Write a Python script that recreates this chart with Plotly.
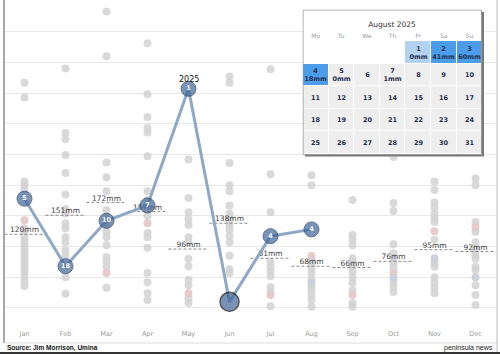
import datetime
import plotly.graph_objects as go

# ---------------- data ----------------
months = ["Jan", "Feb", "Mar", "Apr", "May", "Jun", "Jul", "Aug", "Sep", "Oct", "Nov", "Dec"]

hist_jan = [367, 343, 206, 200, 193, 130, 124, 117, 111, 104, 98, 91, 85, 78, 72, 65, 59, 52, 44, 36]
hist_feb = [390, 285, 275, 249, 220, 185, 161, 154, 138, 130, 115, 107, 94, 85, 50, 23]
hist_mar = [483, 410, 237, 213, 190, 159, 146, 135, 124, 115, 102, 83, 76, 67, 33]
hist_apr = [431, 348, 311, 293, 286, 247, 190, 176, 150, 122, 115, 98, 57, 42, 24, 13]
hist_may = [242, 179, 156, 145, 135, 115, 107, 80, 68, 46, 37, 16, 8]
hist_jun = [377, 367, 236, 200, 190, 167, 154, 146, 140, 133, 127, 117, 107, 85, 63, 57]
hist_jul = [389, 218, 156, 75, 67, 60, 52, 34, 26, 3]
hist_aug = [216, 200, 78, 72, 65, 57, 46, 34, 29, 21, 13, 2]
hist_sep = [176, 119, 111, 102, 81, 75, 67, 59, 50, 41, 29, 8, 2]
hist_oct = [246, 171, 158, 104, 89, 81, 73, 65, 41, 34, 26]
hist_nov = [206, 192, 172, 163, 153, 146, 140, 111, 73, 67, 50, 42, 33, 24]
hist_dec = [211, 200, 140, 124, 107, 99, 93, 86, 80, 67, 62, 37, 21, 5]
history = [hist_jan, hist_feb, hist_mar, hist_apr, hist_may, hist_jun,
           hist_jul, hist_aug, hist_sep, hist_oct, hist_nov, hist_dec]

# highlighted earlier years (pinkish / bluish dots)
pink_mm = [143, None, 57, 138, 24, None, 21, 85, 21, 57, 125, 132]
blue_mm = [None, None, None, None, None, None, None, 41, None, 49, 81, 50]

avg_mm = [120, 151, 172, 157, 96, 138, 81, 68, 66, 76, 95, 92]

y2025_mm = [178, 68, 142, 167, 357, 10, 117, 128]
rank2025 = ["5", "18", "10", "7", "1", "", "4", "4"]

cal_year, cal_month, cal_days = 2025, 8, 31
cal_title = "August 2025"
weekdays = ["Mo", "Tu", "We", "Th", "Fr", "Sa", "Su"]
cal_rain = {1: 0, 2: 41, 3: 60, 4: 18, 5: 0, 7: 1}
cal_shade = {1: 2, 2: 3, 3: 3, 4: 3}   # 2 = light blue, 3 = blue, default 1 = grey

# ---------------- layout helpers ----------------
W, H = 500, 354
ML, MR, MT, MB = 4, 4, 0, 26
PW, PH = W - ML - MR, H - MT - MB


def pxx(px):
    return (px - ML) / PW


def pxy(py):
    return 1 - (py - MT) / PH


fig = go.Figure()

# grey historic dots
gx, gy = [], []
for i, vals in enumerate(history):
    gx += [i] * len(vals)
    gy += vals
fig.add_trace(go.Scatter(x=gx, y=gy, mode="markers", hoverinfo="y",
                         marker=dict(size=8, color="#d2d2d2", opacity=0.85),
                         showlegend=False))
fig.add_trace(go.Scatter(x=[i for i, v in enumerate(pink_mm) if v is not None],
                         y=[v for v in pink_mm if v is not None], mode="markers",
                         marker=dict(size=8, color="#e6c6c6", opacity=0.9), showlegend=False))
fig.add_trace(go.Scatter(x=[i for i, v in enumerate(blue_mm) if v is not None],
                         y=[v for v in blue_mm if v is not None], mode="markers",
                         marker=dict(size=8, color="#c6cedb", opacity=0.9), showlegend=False))

# dashed averages
ax, ay = [], []
for i, v in enumerate(avg_mm):
    ax += [i - 0.49, i + 0.49, None]
    ay += [v, v, None]
fig.add_trace(go.Scatter(x=ax, y=ay, mode="lines", hoverinfo="skip",
                         line=dict(color="#8a8a8a", width=1, dash="3px,2px"), showlegend=False))
fig.add_trace(go.Scatter(x=list(range(12)), y=avg_mm, mode="text",
                         text=[f"{v}mm" for v in avg_mm], textposition="top center",
                         textfont=dict(size=7.5, color="#444444"), showlegend=False))

# 2025 line
n = len(y2025_mm)
sizes = [19 if r == "" else 15 for r in rank2025]
lcol = ["#111111" if r == "" else "#22395e" for r in rank2025]
lw = [1.5 if r == "" else 1 for r in rank2025]
fig.add_trace(go.Scatter(x=list(range(n)), y=y2025_mm, mode="lines+markers+text",
                         text=[f"<b>{r}</b>" if r else "" for r in rank2025],
                         textposition="middle center",
                         textfont=dict(size=6.5, color="white"),
                         line=dict(color="#8ea8c6", width=3),
                         marker=dict(size=sizes, color="#41669a", line=dict(color=lcol, width=lw)),
                         showlegend=False))
top = rank2025.index("1")
fig.add_annotation(x=top, y=y2025_mm[top], text=str(cal_year), showarrow=False,
                   yshift=9, font=dict(size=8, color="#111111"))

# ---------------- calendar inset ----------------
CW, RH = 25.6, 22.5
DX0, DX1, DY0, DY1 = 302.5, 484, 9.5, 156.5
x_lo = -0.5 - (303 - DX0) / CW
x_hi = x_lo + (DX1 - DX0) / CW
y_top = -0.5 - (41 - DY0) / RH
y_bot = y_top + (DY1 - DY0) / RH


def cx(px):
    return x_lo + (px - DX0) / CW


def cy(py):
    return y_top + (py - DY0) / RH


def block(x0, y0, x1, y1, color):
    # single-cell heatmap used as a solid panel (edges given)
    return go.Heatmap(z=[[1]], x=[cx(x0), cx(x1)], y=[cy(y0), cy(y1)], xaxis="x2", yaxis="y2",
                      colorscale=[[0, color], [1, color]], showscale=False, hoverinfo="skip")


fig.add_trace(block(305, 12, 483.5, 156.5, "#7a7a7a"))
fig.add_trace(block(303, 10, 481.5, 154.5, "#ffffff"))

first_wd = datetime.date(cal_year, cal_month, 1).weekday()
n_rows = 5
z = [[0] * 7 for _ in range(n_rows)]
txt = [[""] * 7 for _ in range(n_rows)]
for d in range(1, cal_days + 1):
    k = first_wd + d - 1
    r, c = divmod(k, 7)
    z[r][c] = cal_shade.get(d, 1)
    txt[r][c] = f"<b>{d}<br>{cal_rain[d]}mm</b>" if d in cal_rain else f"<b>{d}</b>"

fig.add_trace(go.Heatmap(z=z, x=list(range(7)), y=list(range(n_rows)), text=txt,
                         texttemplate="%{text}", xaxis="x2", yaxis="y2",
                         textfont=dict(size=6.5, color="#1f2f4f", family="DejaVu Sans"),
                         colorscale=[[0, "#ffffff"], [1 / 3, "#eeeeee"], [2 / 3, "#b3d2f2"], [1, "#4c9de9"]],
                         zmin=0, zmax=3, xgap=1, ygap=1, showscale=False, hoverinfo="skip"))
bx = [cx(303), cx(481.5), cx(481.5), cx(303), cx(303)]
by = [cy(10), cy(10), cy(154.5), cy(154.5), cy(10)]
fig.add_trace(go.Scatter(x=bx, y=by, xaxis="x2", yaxis="y2", mode="lines",
                         line=dict(width=1, color="#9a9a9a"), hoverinfo="skip", showlegend=False))
fig.add_trace(go.Scatter(x=list(range(7)), y=[cy(36)] * 7, text=weekdays, mode="text",
                         xaxis="x2", yaxis="y2", textfont=dict(size=6, color="#9a9a9a"),
                         hoverinfo="skip", showlegend=False))
fig.add_trace(go.Scatter(x=[cx(392)], y=[cy(25)], text=[cal_title], mode="text",
                         xaxis="x2", yaxis="y2", textfont=dict(size=7.5, color="#333333"),
                         hoverinfo="skip", showlegend=False))

# ---------------- frame ----------------
shapes = [
    dict(type="line", xref="paper", yref="paper", x0=0, x1=0, y0=pxy(0), y1=pxy(343),
         line=dict(color="#a8a8a8", width=2)),
    dict(type="line", xref="paper", yref="paper", x0=0, x1=pxx(497), y0=pxy(343), y1=pxy(343),
         line=dict(color="#dddddd", width=1)),
    dict(type="line", xref="paper", yref="paper", x0=pxx(497), x1=pxx(497), y0=pxy(0), y1=pxy(353),
         line=dict(color="#bbbbbb", width=1)),
    dict(type="line", xref="paper", yref="paper", x0=pxx(0), x1=pxx(500), y0=pxy(353), y1=pxy(353),
         line=dict(color="#333333", width=2)),
]

fig.add_annotation(xref="paper", yref="paper", x=pxx(5), y=pxy(348), xanchor="left", yanchor="middle",
                   text="<b>Source: Jim Morrison, Umina</b>", showarrow=False,
                   font=dict(size=6.5, color="#111111", family="Liberation Sans"))
fig.add_annotation(xref="paper", yref="paper", x=pxx(495), y=pxy(348), xanchor="right", yanchor="middle",
                   text="peninsula news", showarrow=False,
                   font=dict(size=7, color="#222222", family="Liberation Sans"))

fig.update_layout(
    width=W, height=H, margin=dict(l=ML, r=MR, t=MT, b=MB),
    paper_bgcolor="white", plot_bgcolor="white",
    font=dict(family="DejaVu Sans"),
    showlegend=False, shapes=shapes,
    xaxis=dict(range=[-0.5, 11.5], tickvals=list(range(12)), ticktext=months,
               tickfont=dict(size=6.5, color="#9a9a9a"), showgrid=False, zeroline=False,
               showline=False, ticks="", fixedrange=True),
    yaxis=dict(range=[-32.6, 501.6], dtick=50, tick0=0, showgrid=True, gridcolor="#e8e8e8",
               showticklabels=False, zeroline=False, showline=False, fixedrange=True),
    xaxis2=dict(domain=[pxx(DX0), pxx(DX1)], range=[x_lo, x_hi], anchor="y2", visible=False,
                fixedrange=True),
    yaxis2=dict(domain=[pxy(DY1), pxy(DY0)], range=[y_bot, y_top], anchor="x2", visible=False,
                fixedrange=True),
)

fig.write_html("out.html")
